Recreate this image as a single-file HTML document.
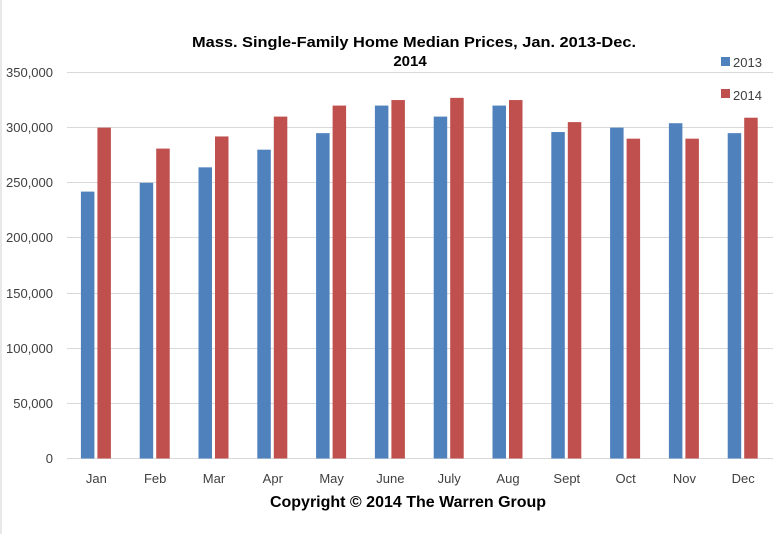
<!DOCTYPE html><html><head><meta charset="utf-8"><style>body{margin:0;background:#fff}svg{display:block;font-family:"Liberation Sans",sans-serif}</style></head><body>
<svg width="781" height="534" xmlns="http://www.w3.org/2000/svg">
<rect x="0" y="0" width="781" height="534" fill="#fff"/>
<line x1="1" y1="0" x2="1" y2="534" stroke="#d0d0d0"/>
<g stroke="#d9d9d9" stroke-width="1">
<line x1="67" x2="773" y1="72.5" y2="72.5"/><line x1="67" x2="773" y1="127.5" y2="127.5"/><line x1="67" x2="773" y1="182.5" y2="182.5"/><line x1="67" x2="773" y1="237.5" y2="237.5"/><line x1="67" x2="773" y1="293.5" y2="293.5"/><line x1="67" x2="773" y1="348.5" y2="348.5"/><line x1="67" x2="773" y1="403.5" y2="403.5"/><line x1="67" x2="773" y1="458.5" y2="458.5"/>
</g>
<g font-size="13" fill="#404040" text-anchor="end">
<text x="53" y="77">350,000</text><text x="53" y="132">300,000</text><text x="53" y="187">250,000</text><text x="53" y="242">200,000</text><text x="53" y="298">150,000</text><text x="53" y="353">100,000</text><text x="53" y="408">50,000</text><text x="53" y="463">0</text>
</g>
<g id="bars"></g>
<g font-size="13" fill="#404040" text-anchor="middle" id="lbl"></g>
<text x="192" y="47" font-size="15" font-weight="bold" fill="#000" textLength="444" lengthAdjust="spacingAndGlyphs">Mass. Single-Family Home Median Prices, Jan. 2013-Dec.</text>
<text x="410" y="66" font-size="15" font-weight="bold" text-anchor="middle" fill="#000">2014</text>
<rect x="721" y="57" width="9" height="9" fill="#4f81bd"/><text x="733" y="67" font-size="13" fill="#404040">2013</text>
<rect x="721" y="89" width="9" height="9" fill="#c0504d"/><text x="733" y="100" font-size="13" fill="#404040">2014</text>
<text x="408" y="507" font-size="16" font-weight="bold" text-anchor="middle" fill="#000">Copyright © 2014 The Warren Group</text>
</svg>
<script>
var a=[242,250,264,280,295,320,310,320,296,300,304,295],b=[300,281,292,310,320,325,327,325,305,290,290,309],m=["Jan","Feb","Mar","Apr","May","June","July","Aug","Sept","Oct","Nov","Dec"];
var ns="http://www.w3.org/2000/svg",g=document.getElementById("bars"),l=document.getElementById("lbl");
function r(x,v,c){var e=document.createElementNS(ns,"rect");var h=v*1.1029;e.setAttribute("x",x);e.setAttribute("y",458.5-h);e.setAttribute("width",13.5);e.setAttribute("height",h);e.setAttribute("fill",c);g.appendChild(e);}
for(var i=0;i<12;i++){var c=67+58.8*(i+0.5);r(c-15.5,a[i],"#4f81bd");r(c+1,b[i],"#c0504d");var t=document.createElementNS(ns,"text");t.setAttribute("x",c);t.setAttribute("y",483);t.textContent=m[i];l.appendChild(t);}
</script>
</body></html>
